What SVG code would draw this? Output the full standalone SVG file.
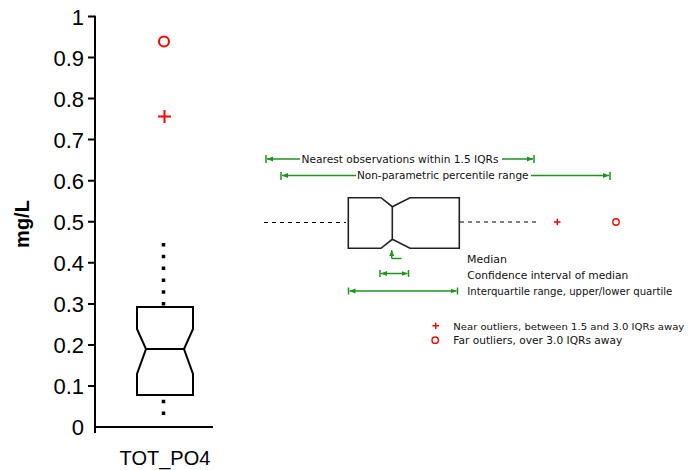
<svg xmlns="http://www.w3.org/2000/svg" width="688" height="470" viewBox="0 0 688 470">
<style>
.ax{stroke:#000;stroke-width:2;fill:none}
.tick{font-family:"Liberation Sans",Arial,sans-serif;font-size:22px;fill:#000;text-anchor:end}
.box{stroke:#000;stroke-width:2;fill:none}
.dot{stroke:#000;stroke-width:3.5;stroke-dasharray:3.5 8.3;fill:none}
.red{stroke:#f00;fill:none}
.g{stroke:#1e941e;stroke-width:1.5;fill:none}
.lt{font-family:"DejaVu Sans",Verdana,sans-serif;font-size:10.5px;fill:#111}
.lbox{stroke:#222;stroke-width:1.6;fill:none}
.dash{stroke:#000;stroke-width:1;stroke-dasharray:4 4;fill:none}
</style>
<defs>
<marker id="ah" viewBox="0 0 6 6" refX="6" refY="3" markerWidth="6" markerHeight="6" markerUnits="userSpaceOnUse" orient="auto-start-reverse">
<path d="M0,0.5 L6,3 L0,5.5 Z" fill="#1e941e"/>
</marker>
</defs>
<rect width="688" height="470" fill="#fff"/>
<g id="axes">
<path class="ax" d="M95,15.7 V433 M95,427 H213"/>
<path class="ax" d="M88,16.5 H95 M88,57.5 H95 M88,98.6 H95 M88,139.6 H95 M88,180.7 H95 M88,221.8 H95 M88,262.8 H95 M88,303.9 H95 M88,344.9 H95 M88,386 H95"/>
<text class="tick" x="84" y="24.5">1</text>
<text class="tick" x="84" y="65.5">0.9</text>
<text class="tick" x="84" y="106.5">0.8</text>
<text class="tick" x="84" y="147.5">0.7</text>
<text class="tick" x="84" y="188.5">0.6</text>
<text class="tick" x="84" y="229.5">0.5</text>
<text class="tick" x="84" y="270.5">0.4</text>
<text class="tick" x="84" y="311.5">0.3</text>
<text class="tick" x="84" y="352.5">0.2</text>
<text class="tick" x="84" y="393.5">0.1</text>
<text class="tick" x="84" y="434.5">0</text>
<text x="-224" y="29" transform="rotate(-90)" text-anchor="middle" font-family="'Liberation Sans',Arial,sans-serif" font-size="20" font-weight="bold">mg/L</text>
<text x="165" y="465" text-anchor="middle" font-family="'Liberation Sans',Arial,sans-serif" font-size="20">TOT_PO4</text>
</g>
<g id="boxplot">
<path class="dot" d="M163.5,243 V307"/>
<path class="dot" d="M163.5,415 V395"/>
<path class="box" d="M137,307 H193 V329 L184,349 L193,374 V395 H137 V374 L146,349 L137,329 Z M146,349 H184"/>
<circle class="red" cx="164" cy="41.5" r="5" stroke-width="2"/>
<path class="red" stroke-width="2" d="M158,116.5 H171 M164.5,110 V123"/>
</g>
<g id="legend-ranges">
<path class="g" d="M266,155 V163 M534,155 V163 M281,172 V180 M610,172 V180"/>
<path class="g" d="M300,159 H267" marker-end="url(#ah)"/>
<path class="g" d="M502,159 H533" marker-end="url(#ah)"/>
<path class="g" d="M356,175.5 H282" marker-end="url(#ah)"/>
<path class="g" d="M531,175.5 H609" marker-end="url(#ah)"/>
<text class="lt" x="301.5" y="162.5" textLength="197" lengthAdjust="spacingAndGlyphs">Nearest observations within 1.5 IQRs</text>
<text class="lt" x="357" y="178.8" textLength="171.5" lengthAdjust="spacingAndGlyphs">Non-parametric percentile range</text>
</g>
<g id="legend-box">
<path class="dash" d="M264,222.5 H346"/>
<path class="dash" d="M460,222 H536"/>
<path class="lbox" d="M348.3,197.7 H381 L392.3,206.7 L410,197.7 H459.3 V248.3 H410 L392.3,239.3 L381,248.3 H348.3 Z M392.3,206.7 V239.3"/>
<path class="red" stroke-width="1.4" d="M554,222 H560.5 M557.3,218.8 V225.3"/>
<circle class="red" stroke-width="1.4" cx="616" cy="222" r="3.2"/>
</g>
<g id="legend-notes">
<path class="g" d="M391.7,258.5 V250" marker-end="url(#ah)"/>
<path class="g" d="M391.7,258.5 H401.5"/>
<path class="g" d="M380,270 V277 M408.5,270 V277 M348.5,287.5 V294.5 M457.5,287.5 V294.5"/>
<path class="g" d="M381,273.5 H407.5" marker-start="url(#ah)" marker-end="url(#ah)"/>
<path class="g" d="M349.5,291 H456.5" marker-start="url(#ah)" marker-end="url(#ah)"/>
<text class="lt" x="467" y="263.3" textLength="40" lengthAdjust="spacingAndGlyphs">Median</text>
<text class="lt" x="467.3" y="279.3" textLength="161" lengthAdjust="spacingAndGlyphs">Confidence interval of median</text>
<text class="lt" x="467.3" y="295.2" textLength="205" lengthAdjust="spacingAndGlyphs">Interquartile range, upper/lower quartile</text>
</g>
<g id="legend-outliers">
<path class="red" stroke-width="1.4" d="M432.5,325.7 H439 M435.7,322.5 V329"/>
<circle class="red" stroke-width="1.4" cx="435.2" cy="340.2" r="3.2"/>
<text class="lt" x="453.3" y="329.5" font-size="9.2" style="font-size:9.2px" textLength="231" lengthAdjust="spacingAndGlyphs">Near outliers, between 1.5 and 3.0 IQRs away</text>
<text class="lt" x="453.3" y="344" textLength="169" lengthAdjust="spacingAndGlyphs">Far outliers, over 3.0 IQRs away</text>
</g>
</svg>
